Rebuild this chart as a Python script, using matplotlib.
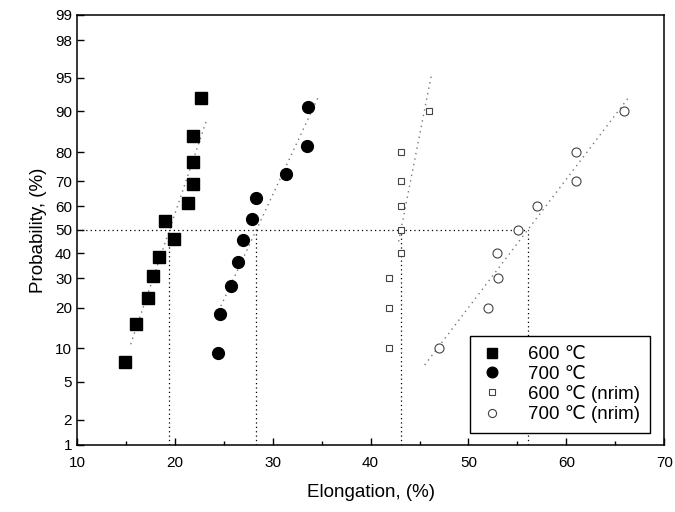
import numpy as np
import matplotlib
matplotlib.use("Agg")
import matplotlib.pyplot as plt
from statistics import NormalDist

plt.rcParams['font.family'] = ['Liberation Sans', 'DejaVu Sans']

# ---- data ----
x_600 = [14.9, 16.0, 17.3, 17.8, 18.4, 19.9, 19.0, 21.3, 21.9, 21.9, 21.9, 22.7]
p_600 = [7.7, 15.4, 23.1, 30.8, 38.5, 46.2, 53.8, 61.5, 69.2, 76.9, 84.6, 92.3]

x_700 = [24.4, 24.6, 25.7, 26.5, 27.0, 27.9, 28.3, 31.4, 33.5, 33.6]
p_700 = [9.1, 18.2, 27.3, 36.4, 45.5, 54.5, 63.6, 72.7, 81.8, 90.9]

x_600n = [41.9, 41.9, 41.9, 43.1, 43.1, 43.1, 43.1, 43.1, 46.0]
p_600n = [10, 20, 30, 40, 50, 60, 70, 80, 90]

x_700n = [47.0, 52.0, 53.0, 52.9, 55.1, 57.0, 61.0, 61.0, 65.9]
p_700n = [10, 20, 30, 40, 50, 60, 70, 80, 90]

labels = ['600 \u2103', '700 \u2103', '600 \u2103 (nrim)', '700 \u2103 (nrim)']

# fitted normal lines: median, sigma, probability range drawn
fit_median = [19.45, 28.33, 43.1, 56.05]
fit_sigma = [3.2, 4.4, 1.86, 7.2]
fit_plo = [10.8, 20.5, 45.0, 7.2]
fit_phi = [88.5, 92.3, 95.2, 92.5]

yticks = [1, 2, 5, 10, 20, 30, 40, 50, 60, 70, 80, 90, 95, 98, 99]
xticks = [10, 20, 30, 40, 50, 60, 70]

nd = NormalDist()
_ppf = np.vectorize(lambda v: nd.inv_cdf(v / 100.0), otypes=[float])
_cdf = np.vectorize(lambda v: nd.cdf(v) * 100.0, otypes=[float])

def fwd(p):
    p = np.clip(np.asarray(p, dtype=float), 1e-6, 100 - 1e-6)
    return _ppf(p)

def inv(z):
    z = np.asarray(z, dtype=float)
    return _cdf(z)

fig = plt.figure(figsize=(6.75, 5.12), dpi=100)
ax = fig.add_axes([0.114, 0.131, 0.870, 0.840])
ax.set_yscale('function', functions=(fwd, inv))

# fit lines
for m, s, lo, hi in zip(fit_median, fit_sigma, fit_plo, fit_phi):
    pp = np.array([lo, hi])
    zz = fwd(pp)
    ax.plot(m + s * zz, pp, color='#777777', lw=1.0, ls=(0, (1, 3)), zorder=1)

# reference lines at 50%
ax.plot([10, fit_median[-1]], [50, 50], color='black', lw=0.9, ls=(0, (1, 2.5)), zorder=1)
for m in fit_median:
    ax.plot([m, m], [1, 50], color='black', lw=0.9, ls=(0, (1, 2.5)), zorder=1)

ax.plot(x_600, p_600, ls='none', marker='s', ms=8, color='black', label=labels[0], zorder=3)
ax.plot(x_700, p_700, ls='none', marker='o', ms=8.5, color='black', label=labels[1], zorder=3)
ax.plot(x_600n, p_600n, ls='none', marker='s', ms=5, mfc='white', mec='#444444', mew=0.8,
        label=labels[2], zorder=3)
ax.plot(x_700n, p_700n, ls='none', marker='o', ms=6.5, mfc='white', mec='#444444', mew=0.8,
        label=labels[3], zorder=3)

ax.set_xlim(10, 70)
ax.set_ylim(1, 99)
ax.set_xticks(xticks)
ax.set_xticks([15, 25, 35, 45, 55, 65], minor=True)
ax.set_yticks(yticks)
ax.set_yticklabels([str(t) for t in yticks])
ax.yaxis.set_minor_locator(matplotlib.ticker.NullLocator())
ax.tick_params(axis='both', which='major', direction='in', length=5, width=1, labelsize=11)
ax.tick_params(axis='x', which='minor', direction='in', length=3, width=1)
ax.tick_params(axis='x', pad=8)
for sp in ax.spines.values():
    sp.set_linewidth(1.1)

ax.set_xlabel('Elongation, (%)', fontsize=13.5, labelpad=10)
ax.set_ylabel('Probability, (%)', fontsize=13.5, labelpad=6)

leg = ax.legend(loc='lower right', bbox_to_anchor=(0.982, 0.018), fontsize=13.5,
                frameon=True, fancybox=False, edgecolor='black', framealpha=1,
                handletextpad=1.3, labelspacing=0.12, borderpad=0.55, handlelength=1.2,
                markerscale=0.9, borderaxespad=0.2)
leg.get_frame().set_linewidth(1.0)

fig.savefig('out.png', dpi=100)
